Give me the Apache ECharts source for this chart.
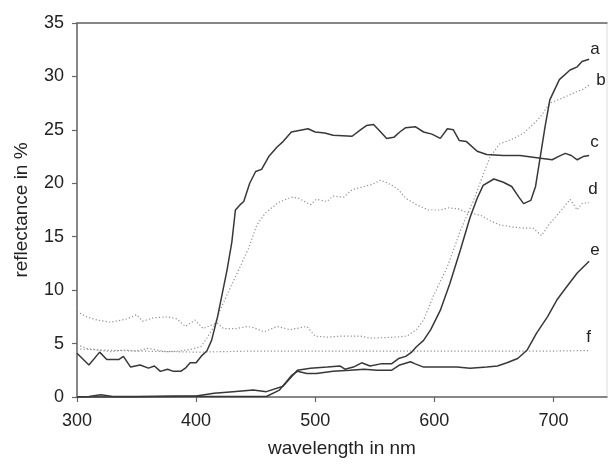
<!DOCTYPE html>
<html>
<head>
<meta charset="utf-8">
<script src="https://cdn.jsdelivr.net/npm/echarts@6/dist/echarts.min.js"></script>
<style>
html,body{margin:0;padding:0;background:#fff;}
#chart{width:611px;height:466px;}
</style>
</head>
<body>
<div id="chart"></div>
<script>
// x tick labels (nm) and y range
const xTicks = [300, 400, 500, 600, 700];
const yTicks = [0, 5, 10, 15, 20, 25, 30, 35];

// curve a (solid)
const curveA = [[300,0.0],[310,0.05],[320,0.2],[330,0.05],[350,0.05],[380,0.1],[400,0.1],[415,0.35],[431,0.5],[448,0.65],[459,0.5],[473,1.0],[485,2.5],[496,2.7],[510,2.8],[521,2.9],[525,2.6],[532,2.8],[539,3.2],[546,2.9],[555,3.1],[564,3.1],[570,3.6],[576,3.8],[581,4.2],[585,4.7],[591,5.3],[597,6.3],[605,8.1],[613,10.6],[622,13.8],[630,16.8],[636,18.6],[641,19.8],[650,20.4],[658,20.1],[665,19.7],[671,18.7],[675,18.1],[681,18.4],[685,19.7],[689,22.5],[693,25.3],[697,27.8],[705,29.7],[714,30.6],[720,30.9],[724,31.4],[730,31.6]];
// curve b (dotted)
const curveB = [[300,8.0],[308,7.5],[317,7.2],[328,7.0],[342,7.3],[350,7.7],[355,7.1],[364,7.4],[376,7.5],[384,7.3],[391,6.6],[399,7.2],[406,6.4],[412,6.7],[418,6.9],[423,6.4],[434,6.4],[443,6.6],[448,6.5],[457,6.1],[468,6.6],[479,6.3],[493,6.6],[500,5.7],[510,5.6],[521,5.7],[538,5.7],[546,5.5],[566,5.6],[577,5.7],[585,6.3],[591,7.2],[599,9.4],[611,12.2],[622,15.6],[633,18.4],[641,20.8],[647,22.5],[655,23.7],[667,24.2],[675,24.7],[681,25.3],[689,26.2],[697,27.5],[706,27.9],[714,28.3],[720,28.6],[725,28.8],[730,29.2]];
// curve c (solid)
const curveC = [[300,4.1],[310,3.0],[319,4.2],[325,3.5],[335,3.5],[339,3.8],[345,2.8],[353,3.0],[360,2.7],[365,2.9],[370,2.4],[376,2.6],[381,2.4],[387,2.4],[391,2.7],[395,3.2],[400,3.2],[405,3.9],[409,4.3],[413,5.3],[418,7.5],[422,9.7],[426,11.9],[430,14.5],[433,17.5],[437,18.0],[440,18.3],[445,20.0],[450,21.1],[455,21.3],[461,22.5],[468,23.4],[473,23.9],[480,24.8],[494,25.1],[500,24.8],[508,24.7],[515,24.5],[531,24.4],[538,25.0],[543,25.4],[549,25.5],[555,24.8],[560,24.2],[566,24.3],[571,24.8],[576,25.2],[584,25.3],[591,24.8],[598,24.6],[605,24.2],[611,25.1],[616,25.0],[621,24.0],[627,23.9],[636,23.0],[644,22.7],[658,22.6],[672,22.6],[686,22.4],[699,22.2],[704,22.5],[710,22.8],[715,22.6],[720,22.2],[725,22.5],[730,22.6]];
// curve d (dotted)
const curveD = [[300,4.9],[308,4.55],[317,4.4],[328,4.24],[339,4.4],[350,4.3],[360,4.55],[375,4.24],[385,4.3],[395,4.45],[404,4.7],[409,5.5],[415,6.6],[420,8.1],[429,10.3],[437,12.2],[444,13.9],[451,16.1],[458,17.2],[469,18.2],[480,18.7],[486,18.6],[496,18.0],[501,18.5],[510,18.3],[515,18.8],[524,18.7],[531,19.4],[541,19.7],[548,19.9],[555,20.3],[563,19.9],[570,19.4],[576,18.6],[585,18.0],[595,17.5],[605,17.5],[612,17.7],[620,17.6],[627,17.3],[639,17.0],[647,16.5],[655,16.1],[667,15.9],[675,15.8],[683,15.8],[690,15.1],[696,16.1],[703,17.0],[709,17.8],[714,18.5],[720,17.5],[724,18.1],[730,18.2]];
// curve e (solid)
const curveE = [[300,0.0],[330,0.0],[350,0.0],[400,0.05],[430,0.05],[459,0.05],[470,0.65],[480,2.0],[485,2.4],[493,2.2],[501,2.2],[515,2.4],[529,2.5],[541,2.6],[552,2.5],[564,2.5],[571,3.0],[580,3.3],[584,3.1],[591,2.8],[605,2.8],[619,2.8],[630,2.7],[644,2.8],[653,2.9],[661,3.2],[670,3.6],[678,4.4],[686,6.0],[695,7.5],[703,9.1],[711,10.3],[720,11.6],[730,12.7]];
// curve f (dotted)
const curveF = [[300,4.5],[320,4.4],[350,4.3],[400,4.2],[450,4.3],[500,4.3],[550,4.3],[600,4.3],[650,4.3],[700,4.3],[730,4.35]];

const curveNames = ['a','b','c','d','e','f'];
const curveData = [curveA, curveB, curveC, curveD, curveE, curveF];
const dotted = [false, true, false, true, false, true];
const labelOffsets = [[-7,-10],[-1,-5],[-7,-13],[-9,-13],[-7,-11],[-11,-13]];

const FONT = 'Liberation Sans, Arial, sans-serif';
const chart = echarts.init(document.getElementById('chart'), null, {renderer:'canvas'});

const series = curveData.map((d, i) => ({
  name: curveNames[i],
  type: 'line',
  data: d,
  symbol: 'none',
  smooth: false,
  animation: false,
  lineStyle: dotted[i]
    ? {color:'#909090', width:1.2, type:[1.2,2.2]}
    : {color:'#383838', width:1.5, type:'solid'},
  endLabel: {
    show: true,
    formatter: curveNames[i],
    fontFamily: FONT,
    fontSize: 17,
    color: '#222',
    offset: labelOffsets[i]
  },
  z: dotted[i] ? 2 : 3
}));

chart.setOption({
  animation: false,
  backgroundColor: '#fff',
  grid: {left:77, top:23, right:4, bottom:69, show:true, borderColor:'#dcdcdc', borderWidth:1},
  xAxis: [{
    type:'value', min:300, max:745, interval:100,
    name:'wavelength in nm', nameLocation:'middle', nameGap:42,
    nameTextStyle:{fontFamily:FONT, fontSize:19, color:'#222'},
    axisLine:{show:true, lineStyle:{color:'#666', width:1.5}},
    axisTick:{show:true, length:5, inside:false, lineStyle:{color:'#666', width:1.2}, customValues: xTicks},
    axisLabel:{fontFamily:FONT, fontSize:18, color:'#222', margin:15, customValues: xTicks},
    splitLine:{show:false}
  },{
    type:'value', position:'top', min:300, max:745,
    axisLine:{show:true, lineStyle:{color:'#666', width:1.5}},
    axisTick:{show:false}, axisLabel:{show:false}, splitLine:{show:false}
  }],
  yAxis: {
    type:'value', min:0, max:35, interval:5,
    name:'reflectance in %', nameLocation:'middle', nameGap:46, nameRotate:90,
    nameTextStyle:{fontFamily:FONT, fontSize:19, color:'#222'},
    axisLine:{show:true, lineStyle:{color:'#666', width:1.5}},
    axisTick:{show:true, length:5, inside:false, lineStyle:{color:'#666', width:1.2}},
    axisLabel:{fontFamily:FONT, fontSize:18, color:'#222', margin:13, customValues: yTicks},
    splitLine:{show:false}
  },
  series: series
});
</script>
</body>
</html>
